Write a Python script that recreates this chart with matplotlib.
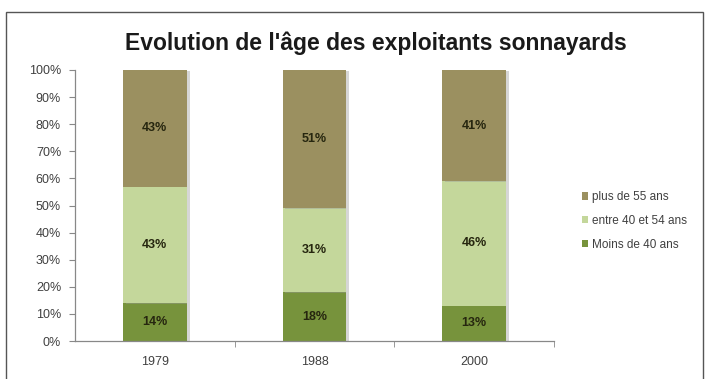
import matplotlib
matplotlib.use("Agg")
import matplotlib.pyplot as plt
import matplotlib.patheffects as pe
from matplotlib.patches import Rectangle, Patch
import numpy as np

plt.rcParams['font.family'] = ['Liberation Sans', 'DejaVu Sans']

years = ["1979", "1988", "2000"]
series_names = ["Moins de 40 ans", "entre 40 et 54 ans", "plus de 55 ans"]
moins_40 = [14, 18, 13]
entre_40_54 = [43, 31, 46]
plus_55 = [43, 51, 41]
series_values = [moins_40, entre_40_54, plus_55]
colors = ["#77933C", "#C4D79B", "#9B9060"]
yticks = [0, 10, 20, 30, 40, 50, 60, 70, 80, 90, 100]

W, H = 706, 379
fig = plt.figure(figsize=(W / 100, H / 100), dpi=100)
fig.patch.set_facecolor("white")

# outer chart frame
fig.patches.append(Rectangle((6 / W, -0.05), 697 / W, 1.05 - 12 / H,
                             transform=fig.transFigure, fill=False,
                             edgecolor="#555555", linewidth=1.0))

ax = fig.add_axes([75 / W, (H - 341) / H, (554 - 75) / W, (341 - 70) / H])

x = np.arange(len(years))
bottom = np.zeros(len(years))
shadow = [pe.SimplePatchShadow(offset=(2.0, -0.5), shadow_rgbFace="#999999", alpha=0.4), pe.Normal()]
for name, vals, col in zip(series_names, series_values, colors):
    ax.bar(x, vals, width=0.4, bottom=bottom, color=col,
           path_effects=shadow, zorder=2)
    for xi, b, v in zip(x, bottom, vals):
        ax.text(xi, b + v / 2, f"{v}%", ha="center", va="center",
                fontsize=9, fontweight="bold", color="#26260f", zorder=3)
    bottom += np.array(vals)

ax.set_xlim(-0.5, len(years) - 0.5)
ax.set_ylim(0, 100)
ax.set_yticks(yticks)
ax.set_yticklabels([f"{t}%" for t in yticks])
ax.set_xticks(x)
ax.set_xticklabels(years)
ax.set_xticks([0.5, 1.5, 2.5], minor=True)

for side in ["top", "right"]:
    ax.spines[side].set_visible(False)
for side in ["left", "bottom"]:
    ax.spines[side].set_color("#888888")
    ax.spines[side].set_linewidth(0.9)

ax.tick_params(axis="y", length=4, color="#888888", labelsize=9,
               labelcolor="#404040", pad=6)
ax.tick_params(axis="x", which="major", length=0, labelsize=9,
               labelcolor="#404040", pad=11)
ax.tick_params(axis="x", which="minor", length=4, color="#888888")

fig.text(376 / W, 1 - 43 / H, "Evolution de l'âge des exploitants sonnayards",
         ha="center", va="center", fontsize=16.5, fontweight="bold", color="#1a1a1a")

legend_handles = [Patch(facecolor=c) for c in colors[::-1]]
leg = fig.legend(legend_handles, series_names[::-1], loc="center left",
                 bbox_to_anchor=(576 / W, 1 - 221 / H), frameon=False,
                 fontsize=8.5, handlelength=0.55, handleheight=0.55,
                 handletextpad=0.3, labelspacing=1.0, borderpad=0)
for t in leg.get_texts():
    t.set_color("#404040")

fig.savefig("out.png", dpi=100, facecolor="white")
